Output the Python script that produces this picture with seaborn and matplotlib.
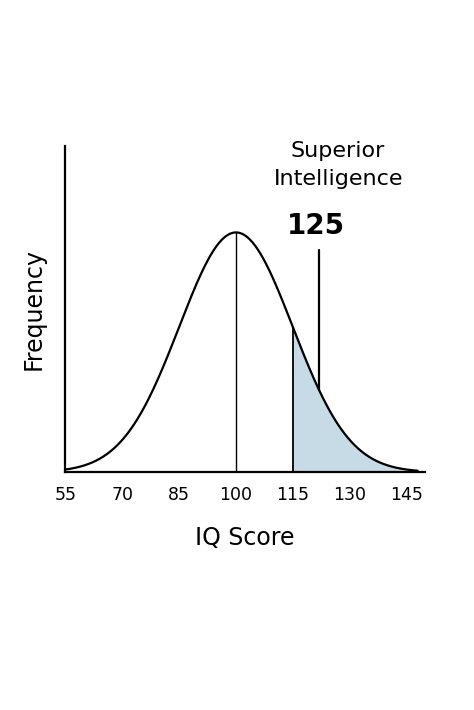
import numpy as np
import matplotlib
matplotlib.use("Agg")
import matplotlib.pyplot as plt
import seaborn as sns
import pandas as pd

mean = 100
sd = 15
tick_values = [55, 70, 85, 100, 115, 130, 145]
shade_start = 115
marker_x = 122
marker_label = "125"
title_text = "Superior\nIntelligence"

sns.set_style("white")
plt.rcParams['font.family'] = ['DejaVu Sans']
plt.rcParams['text.color'] = 'black'
plt.rcParams['xtick.color'] = 'black'
plt.rcParams['axes.labelcolor'] = 'black'

x = np.linspace(54.8, 148, 400)
y = np.exp(-0.5 * ((x - mean) / sd) ** 2) / (sd * np.sqrt(2 * np.pi))
df = pd.DataFrame({"x": x, "y": y})

fig = plt.figure(figsize=(4.74, 7.1), dpi=100)
ax = fig.add_axes([0.137, 0.335, 0.76, 0.46])
sns.lineplot(data=df, x="x", y="y", ax=ax, color="black", lw=1.6)
m = df.x >= shade_start
ax.fill_between(df.x[m], df.y[m], color="#c6dbe6")
pdf = lambda v: np.exp(-0.5 * ((v - mean) / sd) ** 2) / (sd * np.sqrt(2 * np.pi))
ax.plot([mean, mean], [0, pdf(mean)], color="black", lw=1)
ax.plot([shade_start, shade_start], [0, pdf(shade_start)], color="black", lw=1.3)
ymax = pdf(mean) / 0.734
ax.plot([marker_x, marker_x], [pdf(marker_x), ymax * 0.68], color="black", lw=1.6)
ax.set_xlim(54.8, 150)
ax.set_ylim(0, ymax)
ax.set_xticks(tick_values)
ax.set_xticklabels([str(t) for t in tick_values], fontsize=12.5)
ax.tick_params(axis="x", length=0, pad=10)
ax.set_yticks([])
ax.set_xlabel("IQ Score", fontsize=17, labelpad=16)
ax.set_ylabel("Frequency", fontsize=17, labelpad=14)
for s in ["top", "right"]:
    ax.spines[s].set_visible(False)
for s in ["left", "bottom"]:
    ax.spines[s].set_linewidth(1.6)
    ax.spines[s].set_color("black")
ax.text(127, ymax * 0.94, title_text, ha="center", va="center", fontsize=16, linespacing=1.5)
ax.text(121, ymax * 0.755, marker_label, ha="center", va="center", fontsize=20, fontweight="bold")
fig.savefig("out.png", dpi=100, facecolor="white")
